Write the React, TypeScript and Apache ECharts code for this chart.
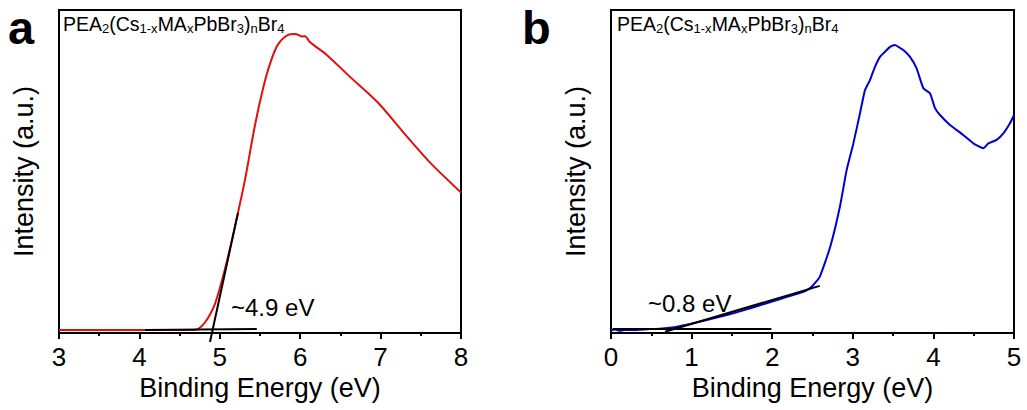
import React, { useEffect, useRef } from "react";
import * as echarts from "echarts";

const FONT = "'Liberation Sans', Arial, sans-serif";

// Panel a (red): binding energy (eV) vs intensity (a.u., 0-100)
const energyA = [3.0, 3.5, 4.0, 4.5, 4.7, 4.76, 4.82, 4.88, 4.94, 5.02, 5.127, 5.226, 5.313, 5.438, 5.54, 5.62, 5.72, 5.85, 5.94, 6.02, 6.06, 6.12, 6.33, 6.62, 6.96, 7.28, 7.61, 8.0];
const intensityA = [0.9, 0.9, 0.9, 0.9, 1.0, 1.8, 3.4, 5.8, 9.0, 15.6, 26.2, 37.2, 47.4, 64.4, 75.9, 83.0, 89.2, 92.3, 92.6, 91.8, 91.9, 90.1, 86.1, 79.3, 71.5, 62.2, 52.9, 43.5];

// Panel a fits
const baseFitAx = [4.07, 5.46];
const baseFitAy = [0.95, 1.25];
const slopeFitAx = [4.878, 5.226];
const slopeFitAy = [-2.8, 37.2];

// Panel b (blue)
const energyB = [0, 0.05, 0.1, 0.17, 0.25, 0.35, 0.48, 0.6, 0.73, 0.85, 0.98, 1.15, 1.35, 1.55, 1.72, 1.9, 2.1, 2.25, 2.41, 2.49, 2.59, 2.72, 2.84, 2.924, 3.007, 3.089, 3.151, 3.213, 3.275, 3.337, 3.4, 3.462, 3.524, 3.565, 3.627, 3.71, 3.792, 3.875, 3.958, 4.02, 4.082, 4.206, 4.371, 4.496, 4.619, 4.681, 4.785, 4.868, 4.95, 5.0];
const intensityB = [0.9, 1.1, 0.7, 0.9, 0.9, 1.0, 1.2, 1.3, 1.6, 2.1, 2.8, 3.8, 5.0, 6.3, 7.6, 9.0, 10.5, 11.7, 13.0, 14.3, 17.4, 26.7, 39.1, 50.5, 58.7, 68.0, 75.2, 78.3, 82.4, 85.5, 87.1, 88.6, 89.2, 88.6, 87.6, 85.5, 81.9, 75.8, 74.2, 69.6, 67.5, 64.4, 61.3, 58.7, 57.2, 58.7, 59.8, 61.8, 64.9, 67.5];

// Panel b fits
const baseFitBx = [0.02, 1.99];
const baseFitBy = [1.2, 1.2];
const slopeFitBx = [0.67, 2.59];
const slopeFitBy = [0.4, 14.6];

const xTicksA = { min: 3, max: 8 };
const xTicksB = { min: 0, max: 5 };

const zip = (xs: number[], ys: number[]) => xs.map((x, i) => [x, ys[i]]);

const titleRich = {
  m: { fontSize: 19.5, fontFamily: FONT, lineHeight: 23, fill: "#000" },
  s: { fontSize: 13, fontFamily: FONT, lineHeight: 13, verticalAlign: "bottom", fill: "#000" },
};
const titleText = "{m|PEA}{s|2}{m|(Cs}{s|1-x}{m|MA}{s|x}{m|PbBr}{s|3}{m|)}{s|n}{m|Br}{s|4}";

function makeX(idx: number, r: { min: number; max: number }) {
  return {
    type: "value",
    gridIndex: idx,
    min: r.min,
    max: r.max,
    interval: 1,
    name: "Binding Energy (eV)",
    nameLocation: "middle",
    nameGap: 41,
    nameTextStyle: { fontSize: 27, fontFamily: FONT, color: "#000" },
    axisLine: { show: true, lineStyle: { color: "#000", width: 2 } },
    axisTick: { show: true, inside: false, length: 6, lineStyle: { color: "#000", width: 2 } },
    minorTick: { show: true, splitNumber: 2, length: 3, lineStyle: { color: "#000", width: 2 } },
    axisLabel: { fontSize: 26, fontFamily: FONT, color: "#000", margin: 11 },
    splitLine: { show: false },
  };
}

function makeY(idx: number) {
  return {
    type: "value",
    gridIndex: idx,
    min: 0,
    max: 100,
    name: "Intensity (a.u.)",
    nameLocation: "middle",
    nameGap: 22,
    nameTextStyle: { fontSize: 27, fontFamily: FONT, color: "#000" },
    axisLine: { show: true, lineStyle: { color: "#000", width: 2 } },
    axisTick: { show: false },
    axisLabel: { show: false },
    splitLine: { show: false },
  };
}

function lineSeries(xi: number, data: number[][], color: string, clip = true) {
  return {
    type: "line",
    xAxisIndex: xi,
    yAxisIndex: xi,
    data,
    showSymbol: false,
    symbol: "none",
    clip,
    smooth: false,
    lineStyle: { color, width: 2 },
    silent: true,
  };
}

const letterStyle = { fontSize: 47, lineHeight: 47, fontWeight: "bold", fontFamily: FONT, fill: "#000", verticalAlign: "middle" };

export default function App() {
  const ref = useRef<HTMLDivElement>(null);
  useEffect(() => {
    if (!ref.current) return;
    const chart = echarts.init(ref.current, undefined, { renderer: "svg" });
    chart.setOption({
      animation: false,
      backgroundColor: "#fff",
      grid: [
        { left: 59, right: 566, top: 10, bottom: 77, show: true, borderColor: "#000", borderWidth: 2 },
        { left: 611, right: 13, top: 10, bottom: 77, show: true, borderColor: "#000", borderWidth: 2 },
      ],
      xAxis: [makeX(0, xTicksA), makeX(1, xTicksB)],
      yAxis: [makeY(0), makeY(1)],
      series: [
        { ...lineSeries(0, zip(energyA, intensityA), "#e01010"), smooth: 0.3 },
        lineSeries(0, zip(baseFitAx, baseFitAy), "#000"),
        lineSeries(0, zip(slopeFitAx, slopeFitAy), "#000", false),
        { ...lineSeries(1, zip(energyB, intensityB), "#0000d0"), smooth: 0.15 },
        lineSeries(1, zip(baseFitBx, baseFitBy), "#000"),
        lineSeries(1, zip(slopeFitBx, slopeFitBy), "#000"),
      ],
      graphic: [
        { type: "text", x: 8, y: 27.5, style: { ...letterStyle, text: "a" } },
        { type: "text", x: 522, y: 27.5, style: { ...letterStyle, text: "b" } },
        { type: "text", x: 63, y: 12, style: { text: titleText, rich: titleRich, verticalAlign: "top" } },
        { type: "text", x: 617, y: 12, style: { text: titleText, rich: titleRich, verticalAlign: "top" } },
        { type: "text", x: 231, y: 307.5, style: { text: "~4.9 eV", fontSize: 24, fontFamily: FONT, fill: "#000", verticalAlign: "middle" } },
        { type: "text", x: 648, y: 303, style: { text: "~0.8 eV", fontSize: 24, fontFamily: FONT, fill: "#000", verticalAlign: "middle" } },
      ],
    });
    return () => chart.dispose();
  }, []);
  return <div ref={ref} style={{ position: "absolute", left: 0, top: 0, width: 1027, height: 410 }} />;
}
